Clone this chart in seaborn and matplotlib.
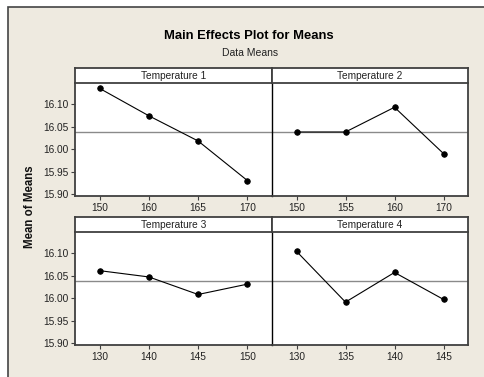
import matplotlib
matplotlib.use("Agg")
import matplotlib.pyplot as plt
from matplotlib.patches import Rectangle
import seaborn as sns
import pandas as pd

# ---- data ----
panel_titles = ["Temperature 1", "Temperature 2", "Temperature 3", "Temperature 4"]
levels_t1 = ["150", "160", "165", "170"]
means_t1 = [16.135, 16.074, 16.018, 15.930]
levels_t2 = ["150", "155", "160", "170"]
means_t2 = [16.038, 16.038, 16.093, 15.990]
levels_t3 = ["130", "140", "145", "150"]
means_t3 = [16.061, 16.047, 16.008, 16.031]
levels_t4 = ["130", "135", "140", "145"]
means_t4 = [16.104, 15.991, 16.057, 15.997]
grand_mean = 16.0385
y_ticks = [15.90, 15.95, 16.00, 16.05, 16.10]
y_limits = (15.8956, 16.147)

sns.set_theme(style="white")
plt.rcParams["font.family"] = ["Liberation Sans", "DejaVu Sans"]

W, H = 484, 377
fig = plt.figure(figsize=(W / 100, H / 100), dpi=100)
fig.patch.set_facecolor("white")

beige = "#EEEAE0"
bg = fig.add_axes([0, 0, 1, 1], zorder=-10)
bg.set_xlim(0, W)
bg.set_ylim(H, 0)
bg.axis("off")
bg.add_patch(Rectangle((8, 7), W + 20, H + 20, facecolor=beige, edgecolor="#444444",
                       linewidth=1.2))

levels = [levels_t1, levels_t2, levels_t3, levels_t4]
means = [means_t1, means_t2, means_t3, means_t4]

x_left = [75, 272, 75, 272]
x_right = [272, 468, 272, 468]
p_top = [83, 83, 232, 232]
p_bot = [196, 196, 345, 345]
s_top = [68, 68, 217, 217]

edge = "#404040"
for i in range(4):
    l, r = x_left[i], x_right[i]
    ax = fig.add_axes([l / W, 1 - p_bot[i] / H, (r - l) / W, (p_bot[i] - p_top[i]) / H])
    ax.set_facecolor("white")
    df = pd.DataFrame({"level": levels[i], "mean": means[i]})
    ax.axhline(grand_mean, color="#8a8a8a", linewidth=1.0, zorder=1)
    sns.pointplot(data=df, x="level", y="mean", order=levels[i], color="black",
                  markers="o", markersize=4, linewidth=0.8, ax=ax, zorder=3)
    ax.set_xlim(-0.5, len(levels[i]) - 0.5)
    ax.set_ylim(*y_limits)
    ax.set_yticks(y_ticks)
    ax.set_xlabel("")
    ax.set_ylabel("")
    for s in ax.spines.values():
        s.set_color(edge)
        s.set_linewidth(1.3)
    ax.spines["top"].set_visible(False)
    if i % 2 == 0:
        ax.spines["right"].set_visible(False)
        ax.set_yticklabels([f"{v:.2f}" for v in y_ticks])
        ax.tick_params(axis="y", left=True, length=3, width=0.8, color=edge,
                       labelsize=7.3, pad=1.5, labelcolor="#222222")
    else:
        ax.spines["left"].set_color("black")
        ax.spines["left"].set_linewidth(1.0)
        ax.tick_params(axis="y", left=False, labelleft=False)
    ax.tick_params(axis="x", bottom=True, length=3, width=0.8, color=edge,
                   labelsize=7.3, pad=2, labelcolor="#222222")

    # strip
    sax = fig.add_axes([l / W, 1 - p_top[i] / H, (r - l) / W, (p_top[i] - s_top[i]) / H])
    sax.set_facecolor("white")
    sax.set_xticks([])
    sax.set_yticks([])
    for s in sax.spines.values():
        s.set_color(edge)
        s.set_linewidth(1.3)
    sax.text(0.5, 0.45, panel_titles[i], ha="center", va="center", fontsize=7.3,
             color="#222222", transform=sax.transAxes)

fig.text(249 / W, 1 - 36 / H, "Main Effects Plot for Means", ha="center", va="center",
         fontsize=9.4, fontweight="bold", color="black")
fig.text(250 / W, 1 - 53 / H, "Data Means", ha="center", va="center",
         fontsize=7.5, color="#222222")
fig.text(30 / W, 1 - 207 / H, "Mean of Means", ha="center", va="center",
         rotation=90, fontsize=8.3, fontweight="bold", color="#111111")

fig.savefig("out.png", dpi=100, facecolor=fig.get_facecolor())
